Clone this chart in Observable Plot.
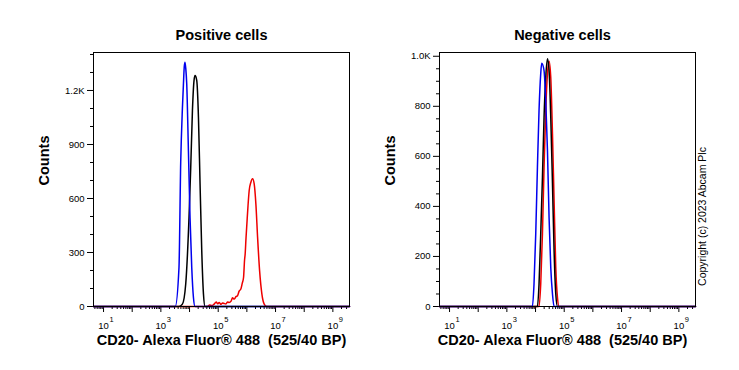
<!DOCTYPE html>
<html><head><meta charset="utf-8">
<script src="https://cdn.jsdelivr.net/npm/d3@7"></script>
<script src="https://cdn.jsdelivr.net/npm/@observablehq/plot@0.6"></script>
<style>
body{margin:0;background:#fff}
#chart{position:relative;width:739px;height:370px;background:#fff}
#chart svg{position:absolute;top:0}
</style>
</head><body><div id="chart"></div>
<script>
// ---- text ----
const panelTitles = ["Positive cells", "Negative cells"];
const xAxisLabel = "CD20- Alexa Fluor\u00ae 488\u00a0 (525/40 BP)";
const yAxisLabel = "Counts";
const copyrightText = "Copyright (c) 2023 Abcam Plc";
const decadeLabels = [1, 3, 5, 7, 9];          // 10^k tick labels
const xLogDomain = [0.65, 9.58];               // log10 of axis range

// ---- y ticks ----
const posYTicks = [0, 300, 600, 900, 1200];
const posYTickLabels = ["0", "300", "600", "900", "1.2K"];
const negYTicks = [0, 200, 400, 600, 800, 1000];
const negYTickLabels = ["0", "200", "400", "600", "800", "1.0K"];

// ---- series (log10 fluorescence, counts) ----
// Positive cells
const posBlueLog   = [0.65, 3.50, 3.632, 3.692, 3.751, 3.786, 3.815, 3.842, 3.870, 3.902, 3.961, 4.017, 4.077, 4.136, 4.192, 9.58];
const posBlueCount = [0,    0,    217,   800,   1100,  1230,  1330,  1357,  1320,  1237,  866,   495,   217,   50,    0,     0];
const posBlackLog   = [0.65, 3.632, 3.751, 3.867, 3.982, 4.042, 4.101, 4.157, 4.192, 4.251, 4.311, 4.367, 4.426, 4.486, 4.542, 9.58];
const posBlackCount = [0,    0,     13,    125,   495,   773,   1088,  1256,  1283,  1256,  1051,  681,   310,   69,    0,     0];
const posRedLog   = [0.65, 4.55, 4.626, 4.70, 4.78, 4.856, 4.93, 4.98, 5.031, 5.10, 5.15, 5.206, 5.27, 5.33, 5.381, 5.45, 5.50, 5.556, 5.62, 5.674, 5.73, 5.79, 5.84, 5.884, 5.92, 5.94, 5.97, 6.00, 6.04, 6.08, 6.14, 6.199, 6.255, 6.314, 6.374, 6.444, 6.524, 6.605, 6.688, 9.58];
const posRedCount = [0,    0,    0,     8,    5,    13,    25,   15,   22,    12,   20,   17,    14,   25,   22,    30,   48,   41,    55,   60,    85,   97,   130,  161,   260,  291,  380,  458,  560,  643,  690,  709,   681,   570,   384,   199,   69,    13,    0,     0];
// Negative cells
const negBlueLog   = [0.65, 3.891, 3.947, 4.007, 4.066, 4.122, 4.181, 4.216, 4.297, 4.356, 4.416, 4.472, 4.531, 4.591, 4.647, 9.58];
const negBlueCount = [0,    0,     90,    290,   556,   783,   930,   972,   943,   823,   623,   356,   156,   50,    0,     0];
const negBlackLog   = [0.65, 4.066, 4.122, 4.181, 4.241, 4.297, 4.356, 4.416, 4.472, 4.531, 4.591, 4.647, 4.706, 4.765, 9.58];
const negBlackCount = [0,    0,     90,    290,   516,   756,   916,   990,   943,   756,   490,   223,   50,    0,     0];
const negRedLog   = [0.65, 4.122, 4.181, 4.241, 4.297, 4.356, 4.416, 4.472, 4.531, 4.591, 4.647, 4.706, 4.765, 4.822, 9.58];
const negRedCount = [0,    0,     90,    290,   556,   783,   930,   980,   916,   690,   423,   156,   36,    0,     0];

const colors = {red: "#ee0000", black: "#000000", blue: "#0000ee"};

function rows(logs, counts) { return logs.map((l, i) => ({x: 10 ** l, c: counts[i]})); }

const majorX = d3.range(1, 10).map(k => 10 ** k);
const minorX = [];
for (let k = 0; k <= 9; k++) for (let m = 2; m <= 9; m++) {
  const v = m * 10 ** k;
  if (v > 10 ** xLogDomain[0] && v < 10 ** xLogDomain[1]) minorX.push(v);
}

function panel({width, marginLeft, marginRight, yMax, yTicks, yTickLabels, yMinorStep, title, titleDx, series, copyright}) {
  const lab = new Map(yTicks.map((t, i) => [t, yTickLabels[i]]));
  const yMinor = d3.range(0, yMax, yMinorStep).filter(v => !yTicks.includes(v));
  const mid = {lineAnchor: "middle", textAnchor: "middle"};
  const marks = [
    Plot.axisY(yMinor, {tickSize: 3, tickFormat: () => "", label: null}),
    Plot.axisY(yTicks, {tickSize: 6, tickPadding: 3, tickFormat: d => lab.get(d), label: null, fontSize: 9.5}),
    Plot.axisX(minorX, {tickSize: 3, tickFormat: () => "", label: null}),
    Plot.axisX(majorX, {tickSize: 6, tickFormat: () => "", label: null}),
    Plot.text(decadeLabels, {x: d => 10 ** d, text: () => "10", frameAnchor: "bottom", dy: 19, fontSize: 9.5, ...mid}),
    Plot.text(decadeLabels, {x: d => 10 ** d, text: d => String(d), frameAnchor: "bottom", dx: 8, dy: 13, fontSize: 7.5, ...mid}),
    ...series.map(s => Plot.line(rows(s.log, s.count), {x: "x", y: "c", stroke: s.color, strokeWidth: 1.5, curve: "monotone-x"})),
    Plot.frame({stroke: "black", strokeWidth: 1}),
    Plot.text([title], {frameAnchor: "top", dx: titleDx, dy: -17, fontWeight: "bold", fontSize: 14.5, ...mid}),
    Plot.text([xAxisLabel], {frameAnchor: "bottom", dx: titleDx, dy: 34, fontWeight: "bold", fontSize: 14.5, ...mid}),
    Plot.text([yAxisLabel], {frameAnchor: "left", dx: -49, dy: -19, rotate: -90, fontWeight: "bold", fontSize: 14.5, ...mid})
  ];
  if (copyright) marks.push(Plot.text([copyright], {frameAnchor: "right", dx: 7, dy: 37, rotate: -90, fontSize: 10.5, ...mid}));
  return Plot.plot({
    width, height: 370,
    marginLeft, marginRight, marginTop: 52, marginBottom: 64,
    style: {fontFamily: "Arial, 'Liberation Sans', sans-serif", fontSize: "9.5px", background: "transparent", overflow: "visible", color: "black"},
    x: {type: "log", domain: xLogDomain.map(v => 10 ** v), axis: null},
    y: {domain: [0, yMax], axis: null},
    marks
  });
}

const left = panel({
  width: 370, marginLeft: 93, marginRight: 21, yMax: 1411,
  yTicks: posYTicks, yTickLabels: posYTickLabels, yMinorStep: 100,
  title: panelTitles[0], titleDx: 0,
  series: [
    {log: posRedLog, count: posRedCount, color: colors.red},
    {log: posBlackLog, count: posBlackCount, color: colors.black},
    {log: posBlueLog, count: posBlueCount, color: colors.blue}
  ]
});
const right = panel({
  width: 369, marginLeft: 69, marginRight: 44, yMax: 1015,
  yTicks: negYTicks, yTickLabels: negYTickLabels, yMinorStep: 50,
  title: panelTitles[1], titleDx: -5,
  series: [
    {log: negRedLog, count: negRedCount, color: colors.red},
    {log: negBlackLog, count: negBlackCount, color: colors.black},
    {log: negBlueLog, count: negBlueCount, color: colors.blue}
  ],
  copyright: copyrightText
});
left.style.left = "0px";
right.style.left = "370px";
document.getElementById("chart").append(left, right);
</script>
</body></html>
